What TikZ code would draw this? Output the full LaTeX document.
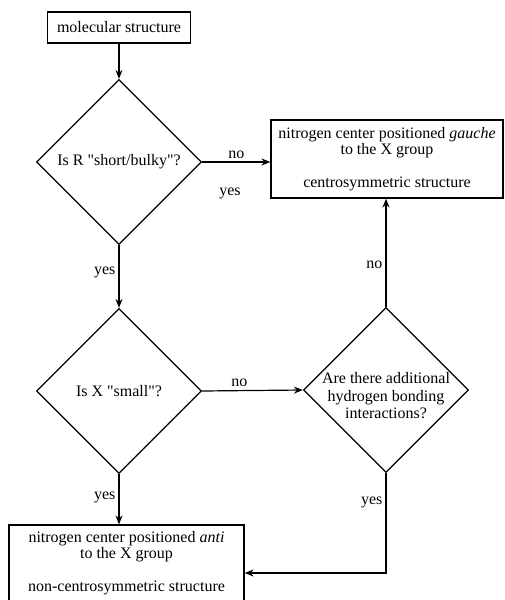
\documentclass[tikz,border=0pt]{standalone}
\usepackage{fontspec}
\setmainfont{Liberation Serif}[Ligatures=TeXOff]
\usetikzlibrary{shapes.geometric,arrows.meta}
\tikzset{
  box/.style={draw, line width=1.2pt, rectangle, inner sep=0pt, align=center},
  decision/.style={draw, line width=1.2pt, diamond, minimum width=165pt, minimum height=165pt, inner sep=0pt},
  arr/.style={line width=1.2pt, -{Stealth[length=9pt,width=7pt,inset=3pt]}},
  lbl/.style={inner sep=3pt}
}
\begin{document}
\begin{tikzpicture}[x=1pt, y=-1pt, font=\fontsize{16}{16.5}\selectfont]
\useasboundingbox (0,0) rectangle (505,600);
% Kaesten:
\node[box, minimum width=143pt, minimum height=31pt] (start) at (119,27.5) {molecular structure};
\node[box, minimum width=232pt, minimum height=78pt] (gauche) at (387,159)
  {nitrogen center positioned \textit{gauche}\\ to the X group\\[16pt] centrosymmetric structure};
\node[box, minimum width=235pt, minimum height=76pt] (anti) at (126.5,563)
  {nitrogen center positioned \textit{anti}\\ to the X group\\[16pt] non-centrosymmetric structure};
% Rauten:
\node[decision] (d1) at (119,162) {};
\node (q1) at (d1) {Is R "short/bulky"?};
\node[decision] (d2) at (119,391) {};
\node (q2) at (d2) {Is X "small"?};
\node[decision] (d3) at (386,390) {};
\node[align=center, font=\fontsize{16}{17.5}\selectfont] (q3) at (386,396)
  {Are there additional\\ hydrogen bonding\\ interactions?};
% Pfeile:
\draw[arr] (start) -- (d1);
\draw[arr] (d1.east) -- node[lbl, above] (no1) {no} (d1.east -| gauche.west);
\node (yes0) at (230,193) {yes};
\draw[arr] (d1.south) -- node[lbl, left, pos=.44] (yes1) {yes} (d2.north);
\draw[arr] (d2.east) -- node[lbl, above, pos=.37] (no2) {no} (d3.west);
\draw[arr] (d3.north) -- node[lbl, left, pos=.39] (no3) {no} (d3.north |- gauche.south);
\draw[arr] (d2.south) -- node[lbl, left, pos=.46] (yes2) {yes} (d2.south |- anti.north);
\coordinate (bend) at (386,573);
\draw[arr] (d3.south) -- node[lbl, left, pos=.29] (yes3) {yes} (bend) -- (bend -| anti.east);
\end{tikzpicture}
\end{document}
